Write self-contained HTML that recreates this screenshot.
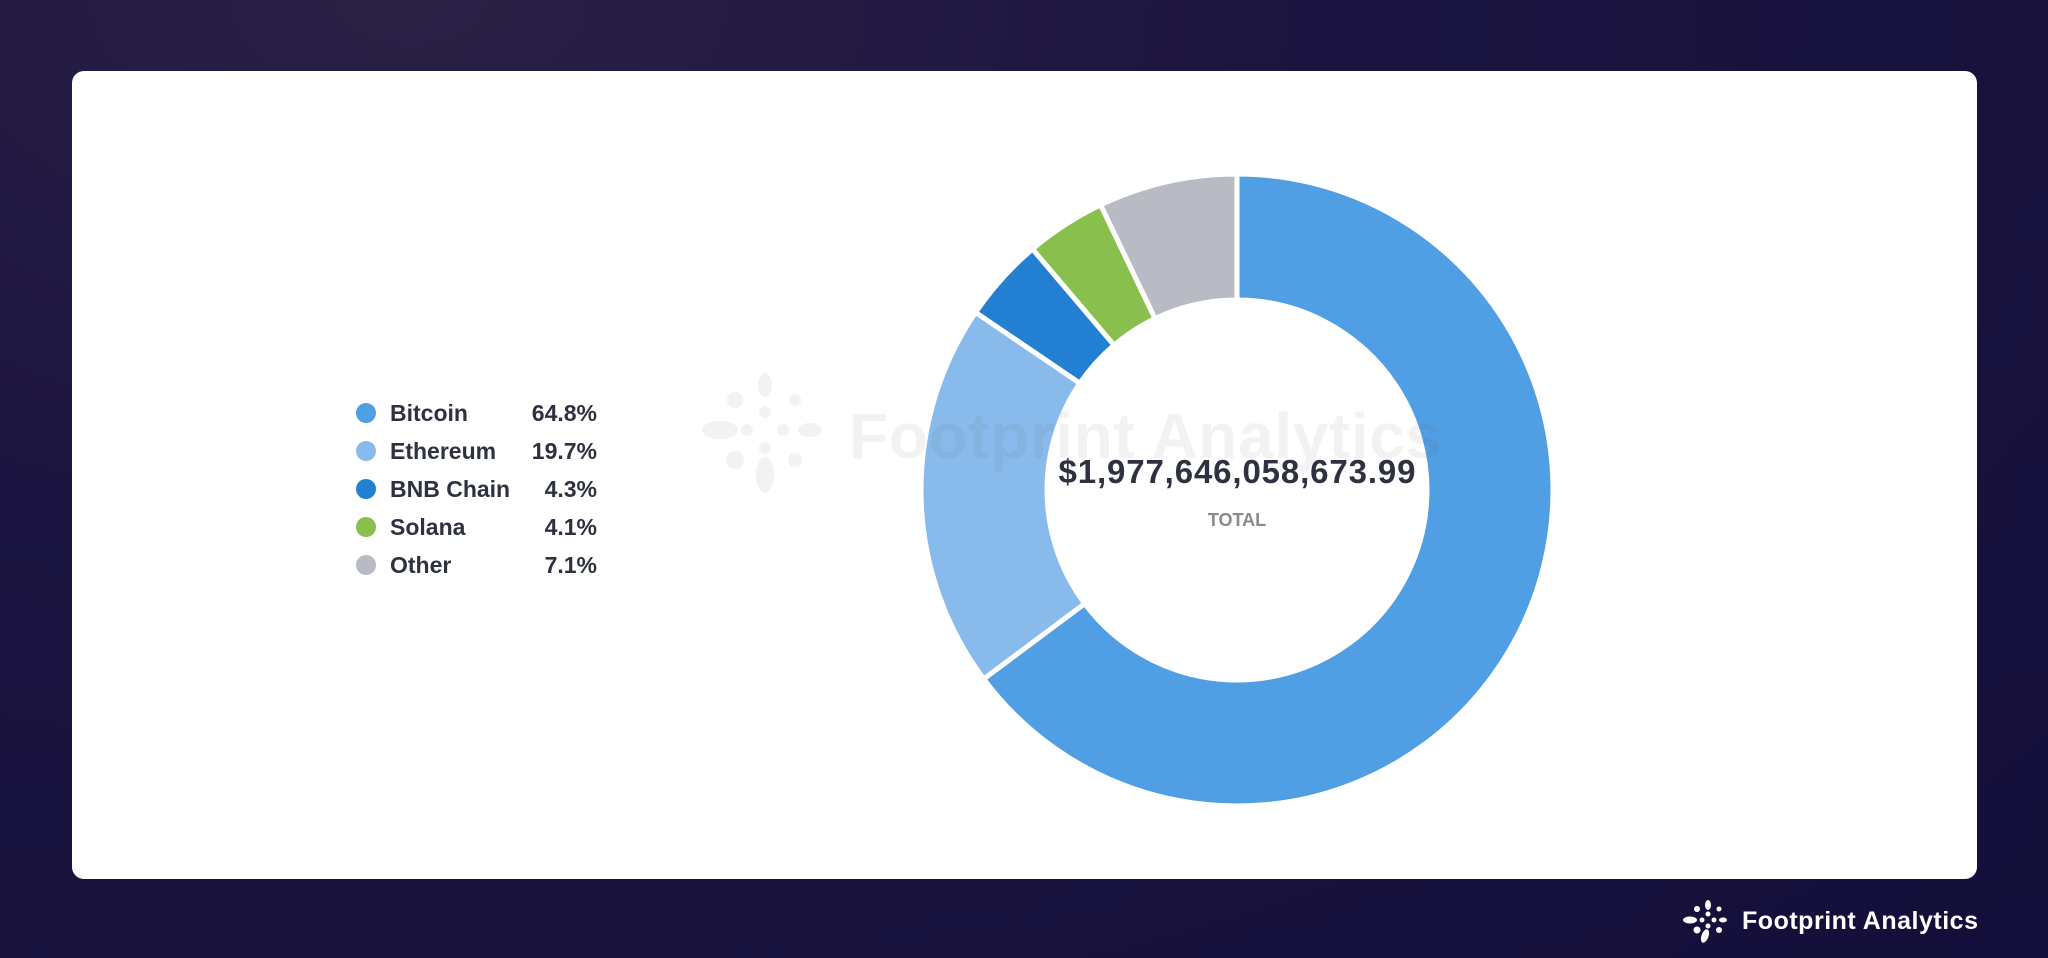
<!DOCTYPE html>
<html><head><meta charset="utf-8"><style>
html,body{margin:0;padding:0;width:2048px;height:958px;overflow:hidden}
body{background:radial-gradient(ellipse at 20% 0%,#2a2145 0%,#1b1440 40%,#140f3a 100%);font-family:"Liberation Sans",sans-serif}
.card{position:absolute;left:72px;top:71px;width:1905px;height:808px;background:#fff;border-radius:12px}
</style></head><body>
<div class="card"></div>
<svg id="s" width="2048" height="958" style="position:absolute;left:0;top:0" xmlns="http://www.w3.org/2000/svg">
<g id="slices"></g>
<g font-family="Liberation Sans, sans-serif" font-weight="bold" fill="#2e3140" font-size="23">
<circle cx="366" cy="413" r="10" fill="#509ee3"/><text x="390" y="421">Bitcoin</text><text x="597" y="421" text-anchor="end">64.8%</text>
<circle cx="366" cy="451" r="10" fill="#88bbec"/><text x="390" y="459">Ethereum</text><text x="597" y="459" text-anchor="end">19.7%</text>
<circle cx="366" cy="489" r="10" fill="#227fd2"/><text x="390" y="497">BNB Chain</text><text x="597" y="497" text-anchor="end">4.3%</text>
<circle cx="366" cy="527" r="10" fill="#88bf4d"/><text x="390" y="535">Solana</text><text x="597" y="535" text-anchor="end">4.1%</text>
<circle cx="366" cy="565" r="10" fill="#b8bbc3"/><text x="390" y="573">Other</text><text x="597" y="573" text-anchor="end">7.1%</text>
</g>
<g opacity="0.07" fill="#555">
<text x="849" y="458" font-family="Liberation Sans, sans-serif" font-weight="bold" font-size="64" textLength="592">Footprint Analytics</text>
<g transform="translate(765,430)">
<ellipse cx="0" cy="-45" rx="7" ry="12"/><ellipse cx="0" cy="45" rx="9" ry="18"/><ellipse cx="-45" cy="0" rx="18" ry="9"/><ellipse cx="45" cy="0" rx="12" ry="7"/>
<circle cx="-30" cy="-30" r="8"/><circle cx="30" cy="-30" r="6"/><circle cx="-30" cy="30" r="9"/><circle cx="30" cy="30" r="7"/>
<circle cx="0" cy="-18" r="6"/><circle cx="0" cy="18" r="6"/><circle cx="-18" cy="0" r="6"/><circle cx="18" cy="0" r="6"/>
</g></g>
<text x="1237" y="483" text-anchor="middle" font-family="Liberation Sans, sans-serif" font-weight="bold" font-size="33" fill="#2e3140" textLength="357">$1,977,646,058,673.99</text>
<text x="1237" y="526" text-anchor="middle" font-family="Liberation Sans, sans-serif" font-weight="bold" font-size="18" fill="#8a8a8f">TOTAL</text>
<g fill="#fff" transform="translate(1708,920)">
<ellipse cx="0" cy="-15" rx="3" ry="5"/><ellipse cx="-3" cy="16" rx="3.5" ry="7" transform="rotate(20 -3 16)"/><ellipse cx="-18" cy="0" rx="7" ry="3.5"/><ellipse cx="15" cy="0" rx="4" ry="2.5"/>
<circle cx="-11" cy="-11" r="3"/><circle cx="11" cy="-11" r="2.5"/><circle cx="-11" cy="10" r="3.5"/><circle cx="11" cy="10" r="3"/>
<circle cx="0" cy="-6" r="2.5"/><circle cx="0" cy="6" r="2.5"/><circle cx="-6" cy="0" r="2.5"/><circle cx="6" cy="0" r="2.5"/>
</g>
<text x="1742" y="929" font-family="Liberation Sans, sans-serif" font-weight="bold" font-size="25" fill="#fff" textLength="236">Footprint Analytics</text>
</svg>
<script>
var cx=1237,cy=490,R=316,r=190;
var d=[[64.8,"#509ee3"],[19.7,"#88bbec"],[4.3,"#227fd2"],[4.1,"#88bf4d"],[7.1,"#b8bbc3"]];
var a=0,g=document.getElementById("slices"),h="";
function p(rad,ang){return [cx+rad*Math.sin(ang),cy-rad*Math.cos(ang)];}
d.forEach(function(s){var a0=a/100*2*Math.PI,a1=(a+s[0])/100*2*Math.PI;a+=s[0];
var l=(a1-a0)>Math.PI?1:0;var A=p(R,a0),B=p(R,a1),C=p(r,a1),D=p(r,a0);
h+='<path d="M'+A+' A'+R+' '+R+' 0 '+l+' 1 '+B+' L'+C+' A'+r+' '+r+' 0 '+l+' 0 '+D+'Z" fill="'+s[1]+'" stroke="#fff" stroke-width="5"/>';});
g.innerHTML=h;
</script>
</body></html>
